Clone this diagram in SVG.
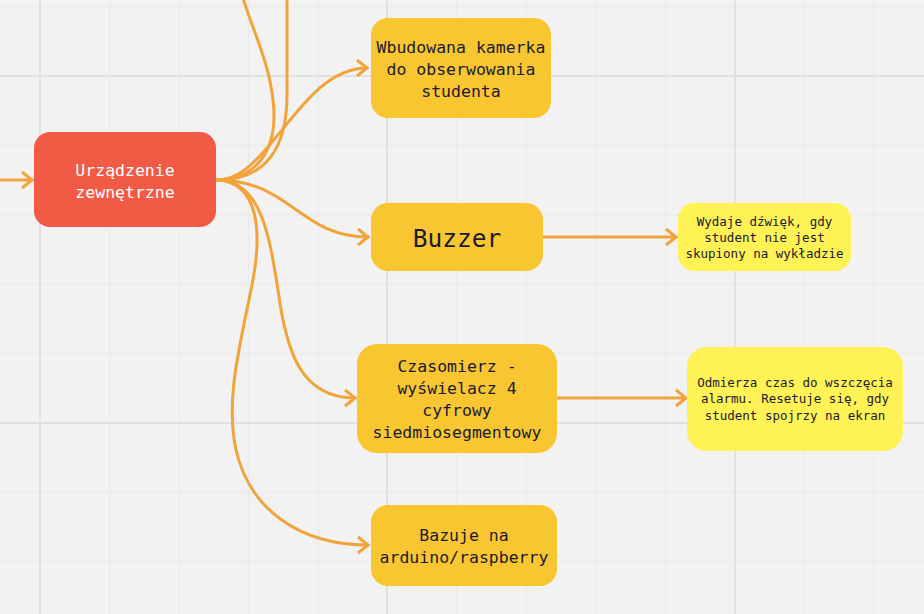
<svg xmlns="http://www.w3.org/2000/svg" width="924" height="614" viewBox="0 0 924 614">
<defs>
<style>
.minor{stroke:#ebebeb;stroke-width:1.5}
.major{stroke:#e1e1e1;stroke-width:2}
.conn{fill:none;stroke:#f2a33a;stroke-width:3;stroke-linecap:round}
.t{font-family:"DejaVu Sans Mono","Liberation Mono",monospace;fill:#1c1a33;text-anchor:middle}
.m{font-size:16.5px}
.s{font-size:12.5px}
.w{fill:#ffffff}
.red{fill:#f15b46}
.yel{fill:#f8c630}
.lt{fill:#fef254}
</style>
<marker id="arr" markerUnits="userSpaceOnUse" markerWidth="16" markerHeight="22" viewBox="0 0 16 22" refX="12" refY="11" orient="auto">
<path d="M2,3 L12,11 L2,19" fill="none" stroke="#f2a33a" stroke-width="3"/>
</marker>
</defs>
<rect width="924" height="614" fill="#f2f2f2"/>
<g id="grid">
<path class="minor" d="M109.5,0V614M179,0V614M248.5,0V614M318,0V614M457,0V614M526.5,0V614M596,0V614M665.5,0V614M804.5,0V614M874,0V614"/>
<path class="minor" d="M0,6.6H924M0,145.4H924M0,214.8H924M0,284.2H924M0,353.6H924M0,492.6H924M0,562H924"/>
<path class="major" d="M40,0V614M387,0V614M735,0V614M0,76H924M0,423H924"/>
</g>
<g id="connectors">
<path class="conn" d="M0,180 L32,180" marker-end="url(#arr)"/>
<path class="conn" d="M217,180 C270,180 300,68 367,68" marker-end="url(#arr)"/>
<path class="conn" d="M217,180 C265,178 278,140 273,100 C269,62 252,28 243,-2"/>
<path class="conn" d="M217,180 C268,180 287,145 287,95 L287,-2"/>
<path class="conn" d="M217,180 C290,180 300,237 368,237" marker-end="url(#arr)"/>
<path class="conn" d="M217,180 C262,180 270,240 278,290 C286,350 300,398 355,398" marker-end="url(#arr)"/>
<path class="conn" d="M217,180 C258,182 263,230 252,285 C240,345 225,400 236,450 C250,510 300,545 368,545" marker-end="url(#arr)"/>
<path class="conn" d="M543,237 L676,237" marker-end="url(#arr)"/>
<path class="conn" d="M557,398 L686,398" marker-end="url(#arr)"/>
</g>
<g id="n-urzadzenie">
<rect class="red" x="34" y="132" width="182" height="95" rx="16"/>
<text class="t m w" x="125" y="175.5">Urządzenie</text>
<text class="t m w" x="125" y="197.5">zewnętrzne</text>
</g>
<g id="n-kamerka">
<rect class="yel" x="371" y="18" width="180" height="100" rx="17"/>
<text class="t m" x="461" y="52.5">Wbudowana kamerka</text>
<text class="t m" x="461" y="75">do obserwowania</text>
<text class="t m" x="461" y="97">studenta</text>
</g>
<g id="n-buzzer">
<rect class="yel" x="371" y="203" width="172" height="68" rx="17"/>
<text class="t" x="457" y="247" style="font-size:24.5px">Buzzer</text>
</g>
<g id="n-czasomierz">
<rect class="yel" x="357" y="344" width="200" height="109" rx="20"/>
<text class="t m" x="457" y="372">Czasomierz -</text>
<text class="t m" x="457" y="394">wyświelacz 4</text>
<text class="t m" x="457" y="416">cyfrowy</text>
<text class="t m" x="457" y="438">siedmiosegmentowy</text>
</g>
<g id="n-bazuje">
<rect class="yel" x="371" y="505" width="186" height="81" rx="17"/>
<text class="t m" x="464" y="540.5">Bazuje na</text>
<text class="t m" x="464" y="562.5">arduino/raspberry</text>
</g>
<g id="n-wydaje">
<rect class="lt" x="678" y="203" width="173" height="68" rx="16"/>
<text class="t s" x="764.5" y="225.5">Wydaje dźwięk, gdy</text>
<text class="t s" x="764.5" y="241.8">student nie jest</text>
<text class="t s" x="764.5" y="258.2">skupiony na wykładzie</text>
</g>
<g id="n-odmierza">
<rect class="lt" x="687" y="347" width="216" height="104" rx="20"/>
<text class="t s" x="795" y="386.7">Odmierza czas do wszczęcia</text>
<text class="t s" x="795" y="403.3">alarmu. Resetuje się, gdy</text>
<text class="t s" x="795" y="420">student spojrzy na ekran</text>
</g>
</svg>
